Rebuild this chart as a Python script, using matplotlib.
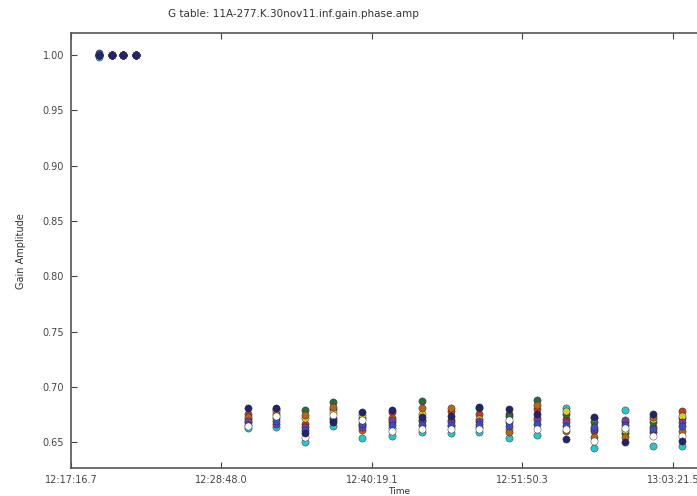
import numpy as np
import matplotlib
matplotlib.use("Agg")
import matplotlib.pyplot as plt
from matplotlib.ticker import FixedLocator, FixedFormatter

TITLE = "G table: 11A-277.K.30nov11.inf.gain.phase.amp"

# solution times, seconds since midnight
times_ref = [44365, 44425, 44476, 44535]
times_sci = [45048, 45178, 45311, 45440, 45573, 45710, 45847, 45982,
             46110, 46248, 46377, 46510, 46639, 46781, 46910, 47043]

tick_labels = ["12:17:16.7", "12:28:48.0", "12:40:19.1", "12:51:50.3", "13:03:21.5"]

ant_colors = ["#2ec4c8", "#c0392b", "#2e6b3a", "#d4cc3a", "#b5651d",
              "#7a3d9a", "#3a4fc0", "#ffffff", "#23236e"]

# amplitudes on the flux calibrator scans (normalised)
amp_ref = [
    [0.998, 1.000, 1.000, 1.000],
    [1.000, 1.000, 1.000, 1.000],
    [1.000, 1.000, 1.000, 1.000],
    [1.000, 1.000, 1.000, 1.000],
    [1.000, 1.000, 1.000, 1.000],
    [1.000, 1.000, 1.000, 1.000],
    [1.002, 1.000, 1.000, 1.000],
    [1.000, 1.000, 1.000, 1.000],
    [1.000, 1.000, 1.000, 1.000],
]

# amplitudes on the target scans, one row per antenna
amp_sci = [
    [0.663, 0.664, 0.650, 0.665, 0.654, 0.656, 0.659, 0.658, 0.659, 0.654, 0.657, 0.681, 0.645, 0.679, 0.647, 0.647],
    [0.676, 0.672, 0.667, 0.680, 0.666, 0.677, 0.670, 0.678, 0.676, 0.676, 0.680, 0.671, 0.660, 0.668, 0.664, 0.678],
    [0.671, 0.680, 0.679, 0.686, 0.672, 0.668, 0.687, 0.670, 0.681, 0.674, 0.688, 0.676, 0.668, 0.658, 0.668, 0.672],
    [0.668, 0.678, 0.672, 0.677, 0.675, 0.663, 0.676, 0.665, 0.671, 0.662, 0.670, 0.678, 0.672, 0.661, 0.671, 0.674],
    [0.673, 0.676, 0.675, 0.682, 0.661, 0.672, 0.681, 0.681, 0.664, 0.659, 0.684, 0.660, 0.655, 0.655, 0.673, 0.660],
    [0.669, 0.667, 0.664, 0.672, 0.664, 0.670, 0.669, 0.668, 0.669, 0.668, 0.672, 0.668, 0.662, 0.670, 0.659, 0.668],
    [0.666, 0.669, 0.661, 0.670, 0.667, 0.666, 0.666, 0.666, 0.667, 0.665, 0.667, 0.665, 0.664, 0.666, 0.662, 0.665],
    [0.665, 0.674, 0.655, 0.675, 0.670, 0.660, 0.662, 0.662, 0.662, 0.670, 0.662, 0.662, 0.651, 0.663, 0.656, 0.656],
    [0.681, 0.681, 0.658, 0.668, 0.677, 0.679, 0.673, 0.674, 0.682, 0.680, 0.676, 0.653, 0.673, 0.650, 0.676, 0.651],
]


def hms_to_sec(s):
    h, m, sec = s.split(":")
    return int(h) * 3600 + int(m) * 60 + float(sec)


fig = plt.figure(figsize=(6.97, 4.96), dpi=100)
ax = fig.add_axes([0.1019, 0.0558, 0.941, 0.877])

for col, early, late in zip(ant_colors, amp_ref, amp_sci):
    ax.plot(times_ref + times_sci, early + late, "o", color=col,
            mec="#222222", mew=0.3, ms=5.2, linestyle="none")

tick_pos = [hms_to_sec(t) for t in tick_labels]
ax.xaxis.set_major_locator(FixedLocator(tick_pos))
ax.xaxis.set_major_formatter(FixedFormatter(tick_labels))
ax.set_xlim(tick_pos[0], 47250)
ax.set_ylim(0.6265, 1.0196)
ax.set_yticks(np.arange(0.65, 1.001, 0.05))
ax.set_yticklabels(["%.2f" % v for v in np.arange(0.65, 1.001, 0.05)])

ax.tick_params(direction="in", top=True, right=True, labelsize=7,
               length=4, width=0.8, pad=5, colors="#444444")
for sp in ax.spines.values():
    sp.set_linewidth(1.2)
    sp.set_color("#555555")

# title sits over the original (uncropped) plot centre
fig.text(293 / 697, 1 - 14 / 496, TITLE, fontsize=7.5, color="#333333",
         ha="center", va="center")
ax.set_xlabel("Time", fontsize=6.5, color="#333333", labelpad=1)
ax.set_ylabel("Gain Amplitude", fontsize=7, color="#333333", labelpad=12)

fig.savefig("out.png", dpi=100)
